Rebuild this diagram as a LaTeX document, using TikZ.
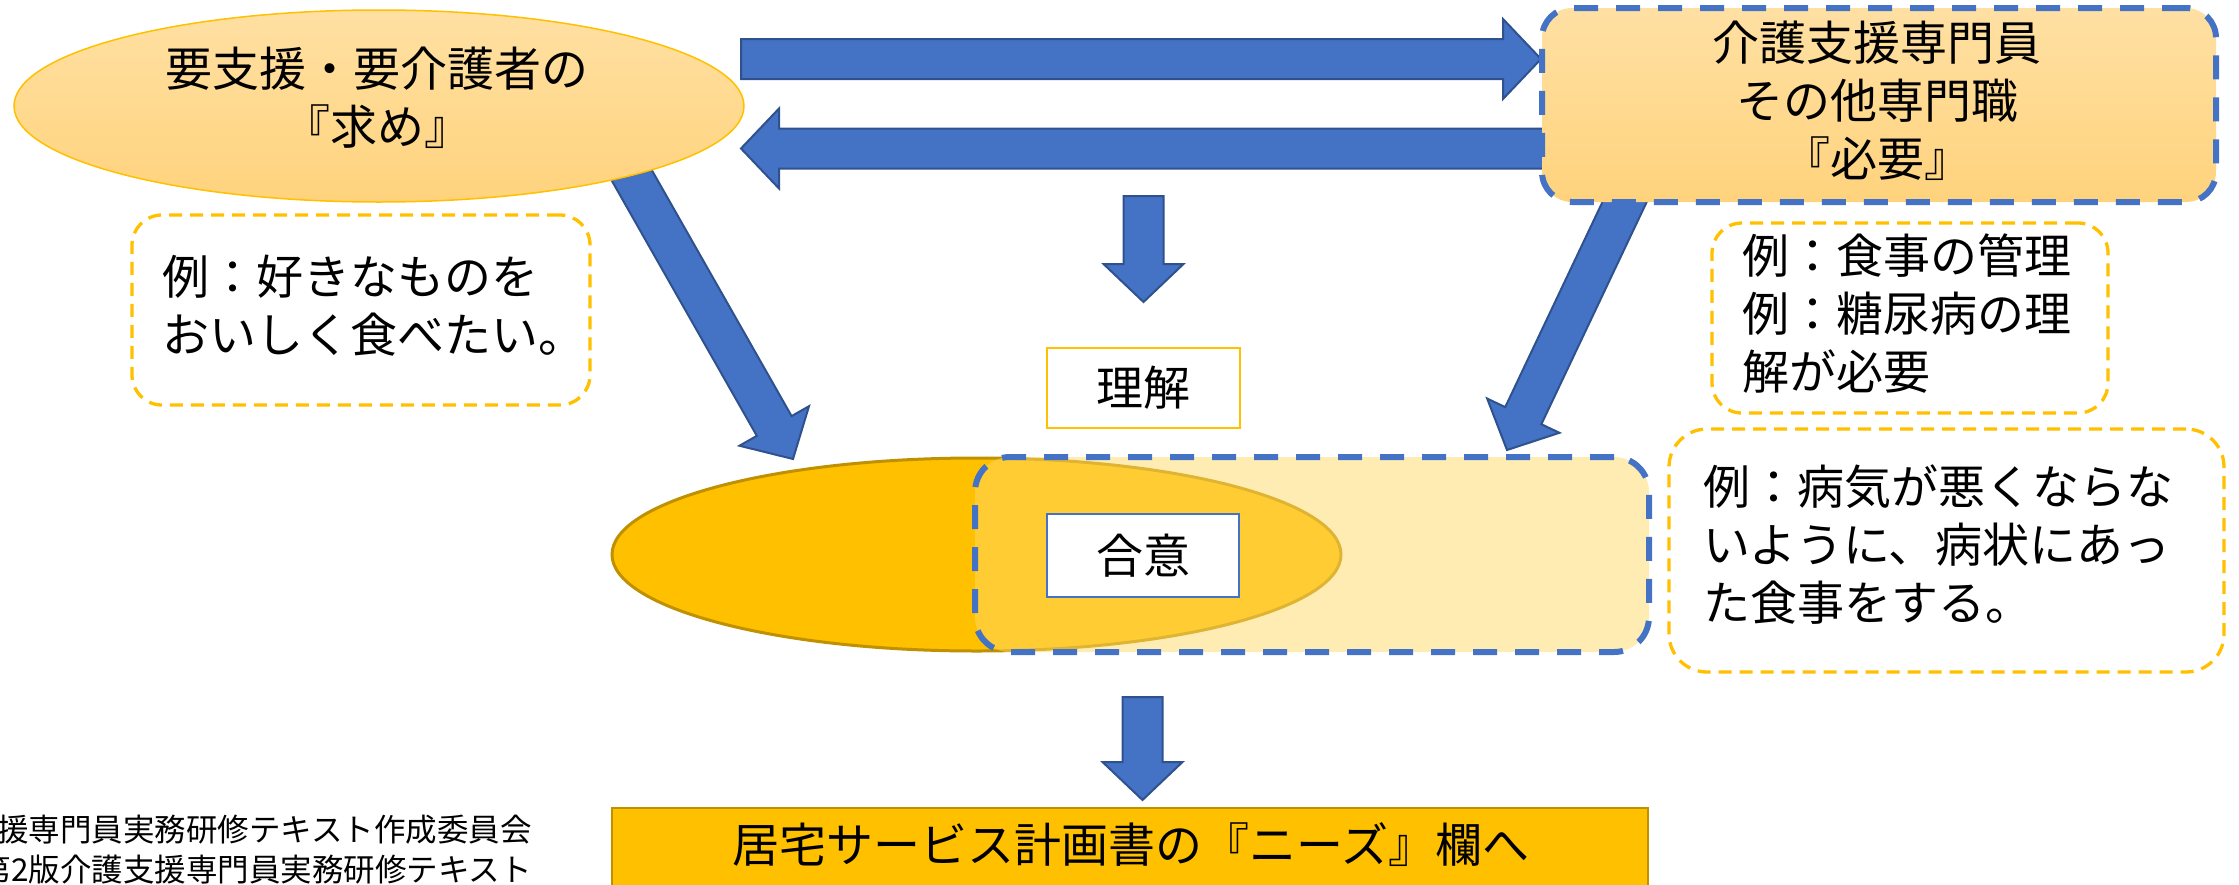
\documentclass[tikz,border=0pt]{standalone}
\usepackage{fontspec}
\setmainfont{Noto Sans CJK JP}
\usetikzlibrary{calc,shapes.geometric}
\definecolor{ablue}{HTML}{4472C4}
\definecolor{ablueD}{HTML}{2F528F}
\definecolor{gold}{HTML}{FFC000}
\definecolor{goldD}{HTML}{BF9000}
\definecolor{peachT}{HTML}{FFE0A3}
\definecolor{peachB}{HTML}{FFD37D}
\definecolor{lightY}{HTML}{FFD966}
\tikzset{
  blockarrow/.style={fill=ablue, draw=ablueD, line width=2pt, line join=miter},
  bigtext/.style={font=\fontsize{47}{58}\selectfont, inner sep=0pt},
  smalltext/.style={font=\fontsize{31.5}{40}\selectfont, inner sep=0pt},
  exbox/.style={draw=gold, line width=3.3pt, dash pattern=on 13pt off 8pt, fill=white, inner sep=0pt},
  bluedash/.style={draw=ablue, line width=6pt, dash pattern=on 24pt off 18pt},
  peachfill/.style={top color=peachT, bottom color=peachB},
}
\newcommand\blockarr[3]{%
  \coordinate (#3) at ($(#2)!38pt!(#1)$);
  \draw[blockarrow] ($(#1)!20pt!90:(#2)$) -- ($(#3)!20pt!90:(#2)$) -- ($(#3)!40pt!90:(#2)$) -- (#2)
    -- ($(#3)!40pt!-90:(#2)$) -- ($(#3)!20pt!-90:(#2)$) -- ($(#1)!20pt!-90:(#2)$) -- cycle;
}
\begin{document}
\begin{tikzpicture}[x=1pt,y=1pt]
\useasboundingbox (0,0) rectangle (2239,-884);
\clip (0,0) rectangle (2239,-884);

% arrow end points
\coordinate (rS) at (741,-59);
\coordinate (rE) at (1541,-59);
\coordinate (lS) at (1548,-148.5);
\coordinate (lE) at (741,-148.5);
\coordinate (d1S) at (1143.5,-196);
\coordinate (d1E) at (1143.5,-302);
\coordinate (d2S) at (1142.5,-697);
\coordinate (d2E) at (1142.5,-800);
\coordinate (ldS) at (606,-130);
\coordinate (ldE) at (793,-459);
\coordinate (rdS) at (1635,-180);
\coordinate (rdE) at (1507,-450);

\blockarr{rS}{rE}{rH}
\blockarr{lS}{lE}{lH}
\blockarr{d1S}{d1E}{d1H}
\blockarr{d2S}{d2E}{d2H}
\blockarr{ldS}{ldE}{ldH}
\blockarr{rdS}{rdE}{rdH}

% top shapes
\node[ellipse, minimum width=730pt, minimum height=192pt, inner sep=0pt, peachfill, draw=gold, line width=1.5pt] (need) at (379,-106) {};
\node[rectangle, rounded corners=30pt, minimum width=674pt, minimum height=194pt, inner sep=0pt, peachfill, bluedash] (prof) at (1879,-105) {};

% example boxes
\node[exbox, rounded corners=30pt, minimum width=458pt, minimum height=190pt] (ex1) at (361,-310) {};
\node[exbox, rounded corners=30pt, minimum width=396pt, minimum height=190pt] (ex2) at (1910,-318) {};
\node[exbox, rounded corners=38pt, minimum width=555pt, minimum height=243pt] (ex3) at (1946.5,-550.5) {};

% agreement area
\node[ellipse, minimum width=729pt, minimum height=193pt, inner sep=0pt, fill=gold, draw=goldD, line width=3pt] (userEl) at (976.5,-554.5) {};
\node[rectangle, rounded corners=35pt, minimum width=674pt, minimum height=195pt, inner sep=0pt, fill=lightY, fill opacity=0.5, draw opacity=1, bluedash] (profRect) at (1312,-554.5) {};

% small boxes
\node[rectangle, draw=gold, line width=2.5pt, fill=white, minimum width=193pt, minimum height=80pt, inner sep=0pt] (under) at (1143.5,-388) {};
\node[rectangle, draw=ablue, line width=2.5pt, fill=white, minimum width=192pt, minimum height=83pt, inner sep=0pt] (agree) at (1143,-555.5) {};

% bottom box
\node[rectangle, fill=gold, draw=goldD, line width=2.5pt, minimum width=1036pt, minimum height=84pt, inner sep=0pt] (plan) at (1130,-850) {};

% texts
\node[bigtext, align=center] (needT) at (377,-97.5) {要支援・要介護者の\\『求め』};
\node[bigtext, align=center] (profT) at (1877,-101) {介護支援専門員\\その他専門職\\『必要』};
\node[bigtext, align=left, anchor=west] (ex1T) at (162,-306) {例：好きなものを\\おいしく食べたい。};
\node[bigtext, align=left, anchor=west] (ex2T) at (1742,-314) {例：食事の管理\\例：糖尿病の理\\解が必要};
\node[bigtext, align=left, anchor=west] (ex3T) at (1703,-545) {例：病気が悪くならな\\いように、病状にあっ\\た食事をする。};
\node[bigtext] (underT) at (1143.5,-388) {理解};
\node[bigtext] (agreeT) at (1143,-555.5) {合意};
\node[bigtext] (planT) at (1131,-845) {居宅サービス計画書の『ニーズ』欄へ};
\node[smalltext, align=right, anchor=east] (srcT) at (532,-850) {援専門員実務研修テキスト作成委員会\\第2版介護支援専門員実務研修テキスト};
\end{tikzpicture}
\end{document}
